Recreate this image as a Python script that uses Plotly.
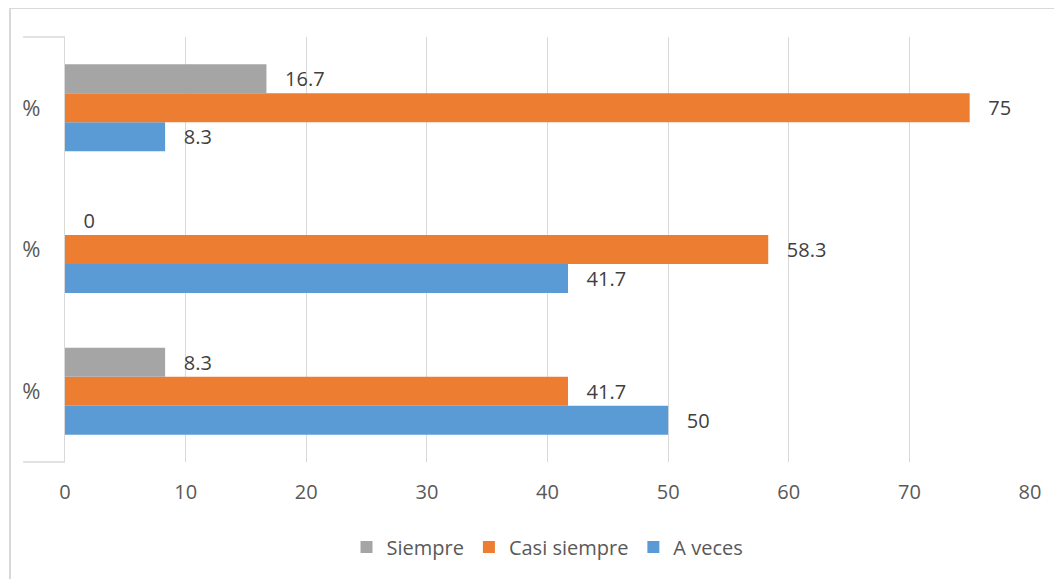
import plotly.graph_objects as go

categories = ["%", "%", "%"]  # bottom to top
positions = [0, 1, 2]
a_veces = [50, 41.7, 8.3]
casi_siempre = [41.7, 58.3, 75]
siempre = [8.3, 0, 16.7]
x_ticks = [0, 10, 20, 30, 40, 50, 60, 70, 80]

series = [
    ("A veces", a_veces, "#5B9BD5"),
    ("Casi siempre", casi_siempre, "#ED7D31"),
    ("Siempre", siempre, "#A5A5A5"),
]

FONT = "Open Sans"
fig = go.Figure()
for name, vals, color in series:
    fig.add_trace(go.Bar(
        name=name, y=positions, x=vals, orientation="h",
        marker=dict(color=color, line=dict(width=0)),
        text=["\u00a0\u00a0\u00a0" + (str(v) if v != int(v) else str(int(v))) for v in vals],
        textposition="outside", cliponaxis=False,
        textfont=dict(family=FONT, size=20, color="#404040"),
    ))

fig.update_layout(
    width=1062, height=579,
    margin=dict(l=57, r=40, t=29, b=125),
    barmode="group", bargap=0.386, bargroupgap=0,
    plot_bgcolor="white", paper_bgcolor="white",
    font=dict(family=FONT, size=20, color="#595959"),
    showlegend=True,
    legend=dict(orientation="h", x=0.5, xanchor="center", y=-0.2, yanchor="middle",
                traceorder="reversed", font=dict(size=20, color="#595959"),
                itemwidth=30),
    xaxis=dict(range=[0, 80], tickvals=x_ticks, showgrid=True, gridcolor="#D9D9D9",
               gridwidth=1.3, zeroline=False, showline=False, ticks="",
               ticklabelstandoff=16, automargin=False,
               tickfont=dict(size=20, color="#595959")),
    yaxis=dict(range=[-0.5, 2.5], tickvals=positions, ticktext=categories,
               showgrid=False, zeroline=False, showline=True, linecolor="#D9D9D9",
               linewidth=1.3, ticks="", ticklabelstandoff=19, automargin=False,
               tickfont=dict(size=22, color="#595959")),
    shapes=[
        dict(type="line", xref="x domain", yref="y domain", x0=-0.0435, x1=0, y0=0, y1=0,
             line=dict(color="#D9D9D9", width=1.3)),
        dict(type="line", xref="x domain", yref="y domain", x0=-0.0435, x1=0, y0=1, y1=1,
             line=dict(color="#D9D9D9", width=1.3)),
        dict(type="rect", xref="paper", yref="paper", x0=-0.057, x1=1.2, y0=-0.5, y1=1.068,
             line=dict(color="#D9D9D9", width=2), layer="below"),
    ],
)

fig.write_html("out.html")
